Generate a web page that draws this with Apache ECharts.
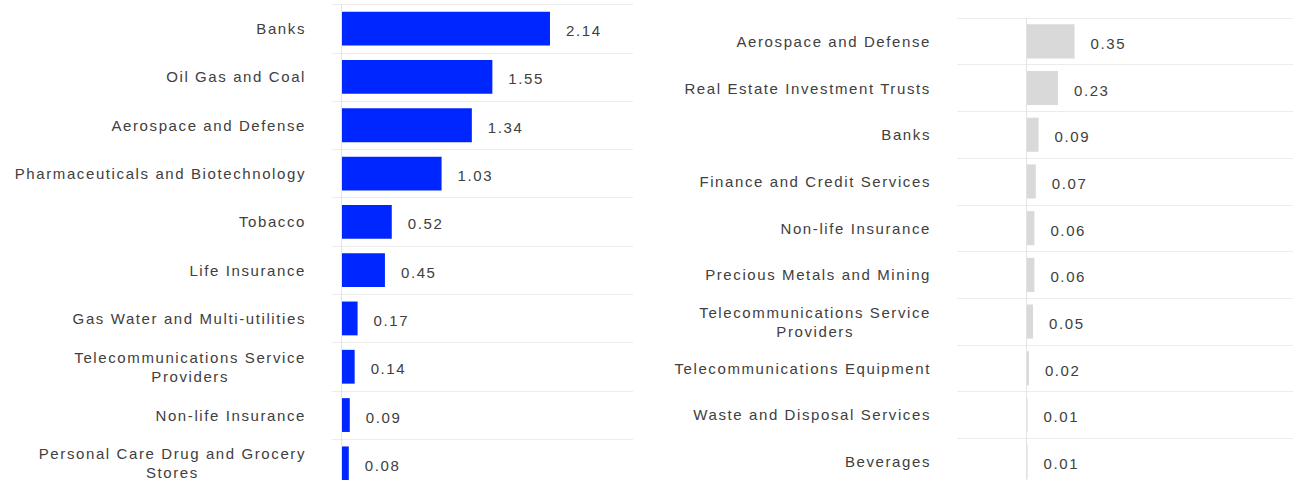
<!DOCTYPE html>
<html>
<head>
<meta charset="utf-8">
<script src="https://cdn.jsdelivr.net/npm/echarts@6/dist/echarts.min.js"></script>
<style>
  html, body { margin: 0; padding: 0; background: #fff; overflow: hidden; }
  /* chart runs a bit past the bottom edge, like the original */
  #main { width: 1293px; height: 500px; }
  #main svg text { letter-spacing: 1.6px; }
</style>
</head>
<body>
<div id="main"></div>
<script>
// left panel
var leftNames = ['Banks', 'Oil Gas and Coal', 'Aerospace and Defense', 'Pharmaceuticals and Biotechnology',
  'Tobacco', 'Life Insurance', 'Gas Water and Multi-utilities', 'Telecommunications Service Providers',
  'Non-life Insurance', 'Personal Care Drug and Grocery Stores'];
var leftValues = [2.14, 1.55, 1.34, 1.03, 0.52, 0.45, 0.17, 0.14, 0.09, 0.08];

// right panel
var rightNames = ['Aerospace and Defense', 'Real Estate Investment Trusts', 'Banks', 'Finance and Credit Services',
  'Non-life Insurance', 'Precious Metals and Mining', 'Telecommunications Service Providers',
  'Telecommunications Equipment', 'Waste and Disposal Services', 'Beverages'];
var rightValues = [0.35, 0.23, 0.09, 0.07, 0.06, 0.06, 0.05, 0.02, 0.01, 0.01];

var textColor = '#404040';
var gridColor = '#ececec';
var fontFamily = '"Liberation Sans", Arial, sans-serif';
var spacing = 1.6;
var maxLabelWidth = 300;

// text is drawn with letter-spacing, so measure it the same way
var measureCtx = document.createElement('canvas').getContext('2d');
function measure(text, font) {
  measureCtx.font = font || ('12px ' + fontFamily);
  var m = measureCtx.measureText(text);
  return { width: m.width + text.length * spacing };
}
echarts.setPlatformAPI({ measureText: measure });

// word wrap for long category names
function wrapName(name) {
  var font = '15px ' + fontFamily;
  var lines = [], cur = '';
  name.split(' ').forEach(function (w) {
    var t = cur ? cur + ' ' + w : w;
    if (cur && measure(t, font).width > maxLabelWidth) {
      lines.push(cur);
      cur = w;
    } else {
      cur = t;
    }
  });
  lines.push(cur);
  return lines.join('\n');
}

var chart = echarts.init(document.getElementById('main'), null, { renderer: 'svg' });

function valueAxis(idx, min, max) {
  return {
    type: 'value', gridIndex: idx, min: min, max: max,
    axisLine: { show: false }, axisTick: { show: false },
    axisLabel: { show: false }, splitLine: { show: false }
  };
}

function catAxis(idx, names) {
  return {
    type: 'category', gridIndex: idx, data: names, inverse: true,
    axisLine: { show: false, onZero: false }, axisTick: { show: false },
    splitLine: { show: true, lineStyle: { color: gridColor, width: 1 } },
    axisLabel: {
      margin: 26,
      formatter: function (v) { return '{c|' + wrapName(v) + '}'; },
      rich: {
        c: { align: 'center', color: textColor, fontSize: 15, fontFamily: fontFamily, lineHeight: 19 }
      }
    }
  };
}

function barSeries(idx, values, color, gap) {
  return {
    type: 'bar', xAxisIndex: idx, yAxisIndex: idx, data: values,
    barCategoryGap: gap,
    itemStyle: { color: color },
    label: {
      show: true, position: 'right', distance: 16, offset: [0, 2],
      color: textColor, fontSize: 15, fontFamily: fontFamily,
      formatter: function (p) { return p.value.toFixed(2); }
    },
    markLine: {
      silent: true, symbol: 'none', animation: false,
      label: { show: false },
      lineStyle: { color: '#e3e3e3', type: 'solid', width: 1 },
      data: [{ xAxis: 0 }]
    },
    z: 3
  };
}

var option = {
  animation: false,
  grid: [
    { left: 332, top: 4.5, width: 301, height: 483 },
    { left: 957, top: 18, width: 340, height: 467 }
  ],
  xAxis: [valueAxis(0, -0.092, 2.99), valueAxis(1, -0.5, 1.93)],
  yAxis: [catAxis(0, leftNames), catAxis(1, rightNames)],
  series: [
    barSeries(0, leftValues, '#0026ff', '30%'),
    barSeries(1, rightValues, '#d9d9d9', '27%')
  ]
};

chart.setOption(option);
</script>
</body>
</html>
